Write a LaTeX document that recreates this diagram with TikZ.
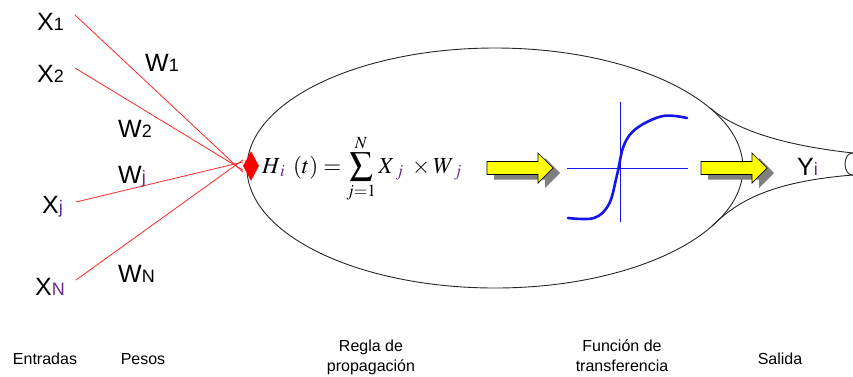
\documentclass[tikz,border=0pt]{standalone}
\usepackage{mathptmx}
\usepackage[no-math]{fontspec}
\setmainfont{Liberation Sans}
\usetikzlibrary{shapes.geometric}
\definecolor{subpurple}{RGB}{100,40,140}
\definecolor{wirered}{RGB}{255,40,40}
\definecolor{sigblue}{RGB}{20,20,235}
\definecolor{arrowyellow}{RGB}{255,255,0}
\begin{document}
\begin{tikzpicture}[x=1pt,y=-1pt,
  lbl/.style={font=\fontsize{25}{25}\selectfont, inner sep=0pt, anchor=base west},
  capt/.style={font=\fontsize{16}{20}\selectfont, inner sep=0pt, align=center, anchor=base},
  wire/.style={wirered, line width=0.8pt},
  outline/.style={black!85, line width=0.9pt},
  axis/.style={sigblue, line width=0.8pt},
  sigm/.style={sigblue, line width=2.6pt, line cap=round, line join=round},
  yarrow/.pic={
    \fill[black!50] (7,-1.5) -- (58,-1.5) -- (58,-10) -- (73,5) -- (58,20) -- (58,11.5) -- (7,11.5) -- cycle;
    \filldraw[fill=arrowyellow, draw=black, line width=0.7pt] (0,-6.5) -- (51,-6.5) -- (51,-15) -- (66,0) -- (51,15) -- (51,6.5) -- (0,6.5) -- cycle;
  }]
\useasboundingbox (0,0) rectangle (853,376);
\clip (0,0) rectangle (853,376);

% main ellipse and output stem
\draw[outline] (495,168) ellipse [x radius=248, y radius=120];
\coordinate (stemtop) at (710,108);
\coordinate (stembot) at (712,226);
\coordinate (capt1) at (853,153);
\coordinate (capb1) at (853,175);
\draw[outline] (stemtop) .. controls (735,129) and (780,145) .. (capt1);
\draw[outline] (stembot) .. controls (735,204) and (765,182) .. (capb1);
\draw[outline] (852,164) ellipse [x radius=7, y radius=11];

% summation point
\node[diamond, fill=red, draw=none, minimum width=16pt, minimum height=30pt, inner sep=0pt] (sum) at (251,166) {};

% inputs
\node[lbl] (x1) at (37,30) {X{\fontsize{18}{18}\selectfont 1}};
\node[lbl] (x2) at (37,82) {X{\fontsize{18}{18}\selectfont 2}};
\node[lbl] (xj) at (42,213) {X{\fontsize{18}{18}\selectfont\color{subpurple} j}};
\node[lbl] (xn) at (35,295) {X{\fontsize{18}{18}\selectfont\color{subpurple} N}};
\coordinate (a1) at (75,15);
\coordinate (a2) at (75,68);
\coordinate (aj) at (76,202);
\coordinate (an) at (76,280);
\draw[wire] (a1) -- ([yshift=-6pt]sum.west);
\draw[wire] (a2) -- ([yshift=-4pt]sum.west);
\draw[wire] (aj) -- ([yshift=4pt]sum.west);
\draw[wire] (an) -- ([yshift=6pt]sum.west);

% weights
\node[lbl] (w1) at (145,71) {W{\fontsize{18}{18}\selectfont 1}};
\node[lbl] (w2) at (118,137) {W{\fontsize{18}{18}\selectfont 2}};
\node[lbl] (wj) at (118,183) {W{\fontsize{18}{18}\selectfont\color{subpurple} j}};
\node[lbl] (wn) at (118,282) {W{\fontsize{18}{18}\selectfont N}};

% propagation rule
\node[inner sep=0pt, anchor=base west, font=\fontsize{23}{23}\selectfont] (rule) at (262,173)
  {$\displaystyle H_{\,\color{subpurple}i}\;\left(t\right)=\sum_{j=1}^{N} X_{\;\color{subpurple}j}\;\times W_{\;\color{subpurple}j}$};

% arrows
\pic at (487,168) {yarrow};
\pic at (701,168) {yarrow};

% transfer function
\coordinate (vt) at (620,102);
\coordinate (vb) at (620,222);
\coordinate (hl) at (567,168);
\coordinate (hr) at (688,168);
\draw[axis] (vt) -- (vb);
\draw[axis] (hl) -- (hr);
\draw[sigm] plot[smooth, tension=0.6] coordinates {(568,218) (594,218) (609,204) (617,175) (624,145) (637,128) (663,116) (687,118)};

% output
\node[lbl] (yi) at (797,175) {Y{\fontsize{18}{18}\selectfont\color{subpurple} i}};

% captions
\node[capt] (c1) at (45,364) {Entradas};
\node[capt] (c2) at (143,364) {Pesos};
\node[capt] (c3) at (371,371) {Regla de\\propagación};
\node[capt] (c4) at (622,371) {Función de\\transferencia};
\node[capt] (c5) at (780,364) {Salida};
\end{tikzpicture}
\end{document}
